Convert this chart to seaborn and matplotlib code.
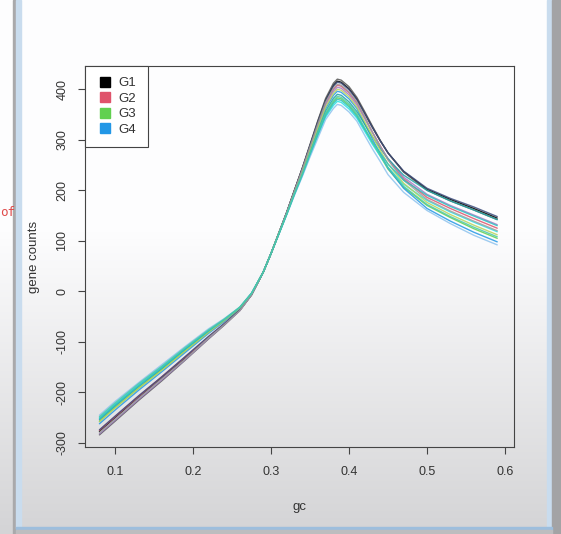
import numpy as np
import pandas as pd
import matplotlib.pyplot as plt
import seaborn as sns
from matplotlib.lines import Line2D
from matplotlib.patches import Rectangle

# gc grid shared by all samples
gc = [0.08, 0.10, 0.13, 0.16, 0.19, 0.22, 0.24, 0.26, 0.275, 0.29, 0.30, 0.31,
      0.32, 0.33, 0.34, 0.35, 0.36, 0.37, 0.38, 0.385, 0.39, 0.40, 0.41, 0.42,
      0.43, 0.44, 0.45, 0.47, 0.50, 0.53, 0.56, 0.59]

# gene counts per sample
s01 = [-277, -250, -210, -171, -132, -91, -65, -37, -7, 38, 75, 115, 156, 200, 243, 289, 336, 379, 408, 416, 414, 401, 381, 353, 325, 298, 274, 237, 202, 182, 164, 145]
s02 = [-284, -257, -216, -177, -136, -94, -67, -38, -7, 38, 75, 116, 156, 200, 244, 291, 338, 382, 412, 420, 418, 405, 384, 356, 327, 299, 274, 236, 200, 179, 161, 142]
s03 = [-275, -248, -208, -169, -130, -90, -64, -37, -6, 38, 75, 115, 155, 198, 240, 285, 330, 372, 400, 408, 406, 393, 373, 345, 315, 288, 261, 223, 186, 164, 144, 125]
s04 = [-282, -255, -214, -175, -135, -93, -66, -38, -7, 38, 75, 115, 155, 197, 239, 283, 327, 369, 396, 404, 402, 389, 369, 342, 314, 287, 263, 226, 192, 170, 151, 132]
s05 = [-257, -230, -192, -155, -118, -81, -58, -33, -5, 38, 75, 114, 153, 193, 231, 273, 313, 351, 375, 383, 381, 368, 349, 321, 294, 268, 242, 206, 170, 146, 124, 105]
s06 = [-250, -223, -185, -149, -113, -77, -55, -32, -4, 38, 75, 113, 152, 192, 229, 269, 308, 345, 368, 376, 374, 361, 343, 317, 291, 268, 245, 212, 180, 157, 137, 118]
s07 = [-262, -235, -196, -159, -121, -83, -60, -34, -5, 38, 75, 114, 154, 196, 236, 279, 322, 362, 388, 396, 394, 381, 362, 332, 301, 273, 244, 204, 164, 139, 117, 98]
s08 = [-245, -218, -181, -145, -109, -74, -54, -31, -3, 38, 75, 113, 151, 190, 227, 266, 303, 340, 362, 370, 368, 355, 337, 309, 282, 257, 231, 196, 160, 134, 111, 92]
s09 = [-254, -227, -189, -153, -115, -79, -57, -32, -4, 38, 75, 114, 153, 194, 234, 276, 317, 357, 382, 390, 388, 375, 356, 331, 306, 283, 262, 230, 200, 179, 161, 142]
s10 = [-274, -247, -207, -169, -129, -89, -64, -36, -6, 38, 75, 115, 156, 199, 242, 288, 334, 377, 406, 414, 412, 399, 379, 352, 324, 298, 274, 238, 204, 184, 167, 148]
s11 = [-258, -231, -192, -156, -118, -81, -58, -33, -5, 38, 75, 115, 154, 196, 237, 281, 324, 365, 392, 400, 398, 385, 365, 336, 307, 279, 252, 214, 176, 152, 131, 112]
s12 = [-280, -253, -212, -173, -134, -92, -66, -38, -7, 38, 75, 115, 155, 198, 241, 286, 331, 374, 402, 410, 408, 395, 375, 346, 315, 287, 260, 220, 182, 159, 139, 120]
s13 = [-252, -225, -187, -151, -114, -78, -56, -32, -4, 38, 75, 114, 152, 192, 230, 271, 310, 348, 372, 380, 378, 365, 346, 321, 296, 274, 252, 220, 190, 168, 149, 130]
s14 = [-248, -221, -183, -148, -111, -76, -55, -31, -4, 38, 75, 114, 153, 194, 232, 274, 315, 353, 378, 386, 384, 371, 352, 324, 296, 270, 245, 208, 172, 148, 127, 108]

samples = ['s01', 's02', 's03', 's04', 's05', 's06', 's07', 's08', 's09', 's10', 's11', 's12', 's13', 's14']
counts = [s01, s02, s03, s04, s05, s06, s07, s08, s09, s10, s11, s12, s13, s14]
line_cols = ['#000000', '#555555', '#DF536B', '#A07CC5', '#61D04F', '#28E2E5', '#2297E6',
             '#8EC3EE', '#1FA3A3', '#3B4B7B', '#B8D45A', '#9E9E9E', '#2CBFBF', '#4CC9A8']

groups = ['G1', 'G2', 'G3', 'G4']
group_cols = ['#000000', '#DF536B', '#61D04F', '#2297E6']

df = pd.concat([pd.DataFrame({'gc': gc, 'count': c, 'sample': s}) for s, c in zip(samples, counts)])

sns.set_style('white')
plt.rcParams['font.family'] = ['Liberation Sans', 'DejaVu Sans']

fig = plt.figure(figsize=(5.61, 5.34), dpi=100)

# screenshot background: gradient + window frame
bg = fig.add_axes([0, 0, 1, 1])
bg.set_xlim(0, 561)
bg.set_ylim(534, 0)
bg.axis('off')
grad = np.concatenate([np.ones(230), np.linspace(1, 0, 304)])[:, None]
bg.imshow(grad, extent=[0, 561, 534, 0], aspect='auto',
          cmap=sns.blend_palette(['#D4D4D6', '#FDFDFE'], as_cmap=True), vmin=0, vmax=1)
bg.add_patch(Rectangle((13, 0), 3, 534, color='#A9A9AB'))
bg.add_patch(Rectangle((16, 0), 5, 528, color='#C9DCEE'))
bg.add_patch(Rectangle((547, 0), 5, 528, color='#C9DCEE'))
bg.add_patch(Rectangle((552, 0), 9, 534, color='#A3A3A5'))
bg.add_patch(Rectangle((16, 527), 536, 3, color='#9DBEDD'))
bg.add_patch(Rectangle((16, 530), 536, 4, color='#BDBDBF'))
bg.text(0, 213, 'of', color='#E04A4A', fontsize=9, family='DejaVu Sans Mono', va='center')

ax = fig.add_axes([85 / 561, 1 - 447 / 534, (514 - 85) / 561, (447 - 66) / 534])
ax.set_facecolor('none')

sns.lineplot(data=df, x='gc', y='count', hue='sample', palette=dict(zip(samples, line_cols)),
             ax=ax, legend=False, linewidth=1.0, alpha=0.85, sort=False)

ax.set_xlim(0.0615, 0.6115)
ax.set_ylim(-308, 446)
ax.set_xticks([0.1, 0.2, 0.3, 0.4, 0.5, 0.6])
ax.set_xticklabels(['0.1', '0.2', '0.3', '0.4', '0.5', '0.6'])
ax.set_yticks([-300, -200, -100, 0, 100, 200, 300, 400])
ax.set_yticklabels(['-300', '-200', '-100', '0', '100', '200', '300', '400'], rotation=90, va='center')
ax.tick_params(direction='out', length=5, width=0.8, color='#444444', labelcolor='#333333',
               labelsize=9, left=True, bottom=True)
ax.tick_params(axis='x', pad=9)
ax.tick_params(axis='y', pad=7)
for sp in ax.spines.values():
    sp.set_color('#444444')
    sp.set_linewidth(0.8)
ax.set_xlabel('gc', fontsize=9.5, color='#333333', labelpad=16)
ax.set_ylabel('gene counts', fontsize=9.5, color='#333333', labelpad=12)

handles = [Line2D([], [], marker='s', linestyle='none', color=c, markersize=7) for c in group_cols]
leg = ax.legend(handles, groups, loc='upper left', borderaxespad=0, fancybox=False, framealpha=1,
                fontsize=9.5, handletextpad=0.4, labelspacing=0.24, borderpad=0.85, handlelength=1.3)
leg.get_frame().set_edgecolor('#444444')
leg.get_frame().set_linewidth(0.8)
for t in leg.get_texts():
    t.set_color('#333333')

plt.savefig('out.png', dpi=100)
